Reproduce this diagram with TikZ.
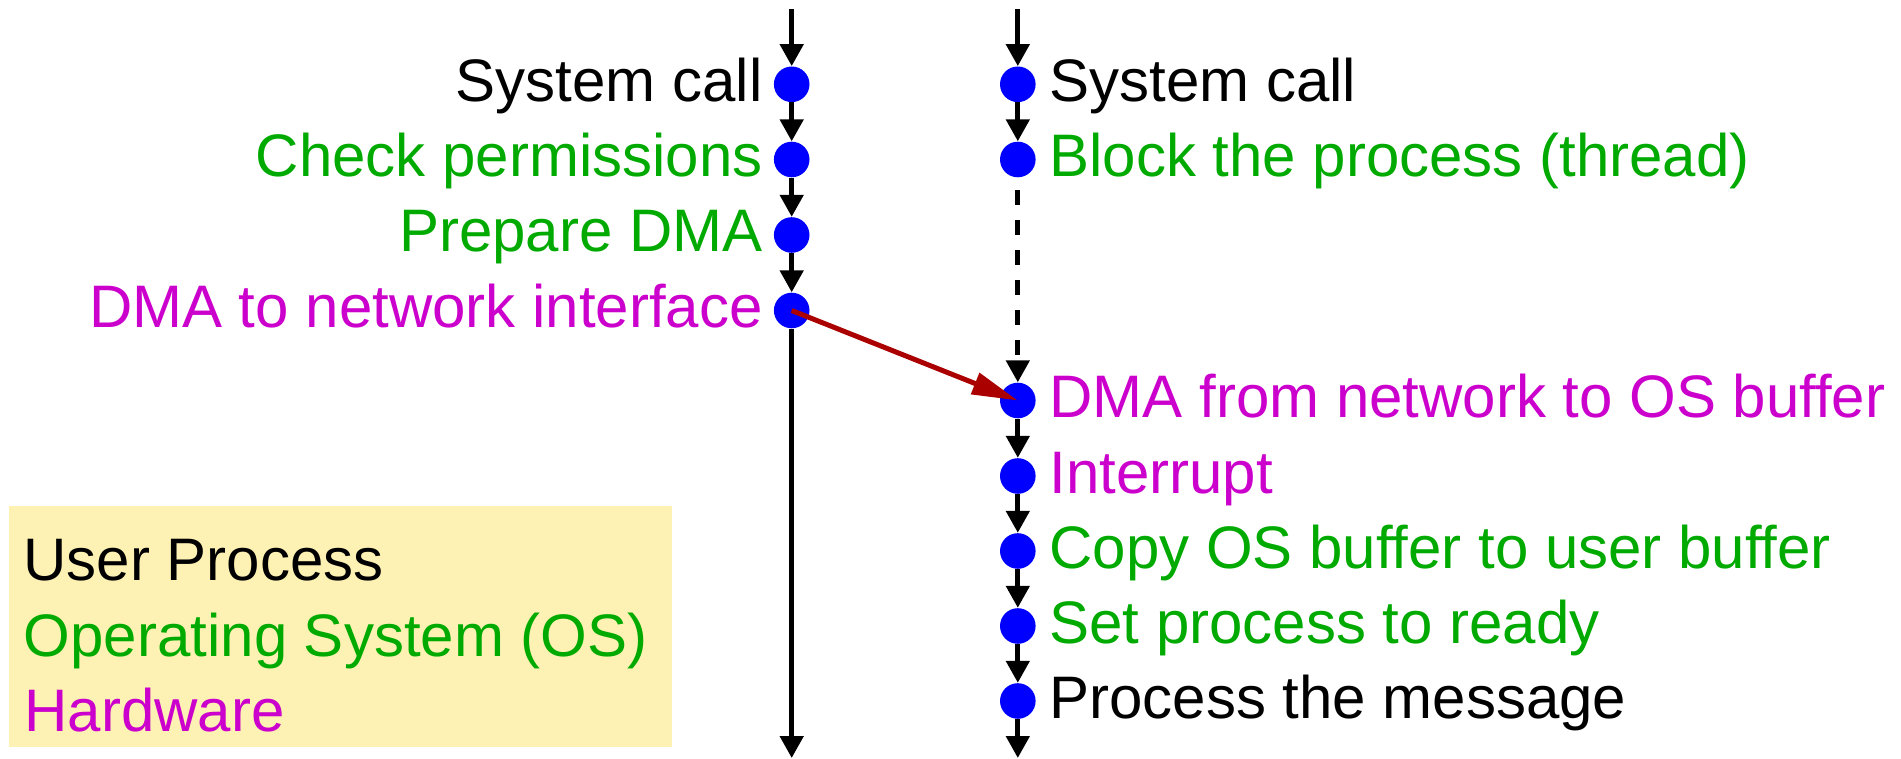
\documentclass[tikz,border=0pt]{standalone}
\usepackage{fontspec}
\setmainfont{Liberation Sans}
\usetikzlibrary{arrows.meta}
\definecolor{osgreen}{RGB}{0,170,0}
\definecolor{hwmagenta}{RGB}{204,0,204}
\definecolor{dotblue}{RGB}{0,0,255}
\definecolor{dmared}{RGB}{170,0,0}
\definecolor{legendfill}{RGB}{253,242,179}
\begin{document}
\begin{tikzpicture}[x=0.5pt,y=-0.5pt,
  event/.style={circle,fill=dotblue,inner sep=0pt,minimum size=17.8pt},
  flow/.style={line width=2.4pt,-{Triangle[length=11pt,width=11.5pt]}},
  wait/.style={flow,dash pattern=on 7.5pt off 7.5pt,dash phase=8.65pt},
  transfer/.style={line width=2.5pt,color=dmared,-{Triangle[length=23pt,width=11pt]}},
  lbl/.style={font=\fontsize{30pt}{36pt}\selectfont,inner sep=0pt},
  lefttext/.style={lbl,anchor=base east},
  righttext/.style={lbl,anchor=base west},
  user/.style={text=black},
  os/.style={text=osgreen},
  hw/.style={text=hwmagenta}]
\useasboundingbox (0,0) rectangle (1901,759);

% legend
\fill[legendfill] (9,506) rectangle (672,747);
\node[lbl,anchor=base west,user] (lgUser) at (23,580) {User Process};
\node[lbl,anchor=base west,os] (lgOS) at (23.5,656) {Operating System (OS)};
\node[lbl,anchor=base west,hw] (lgHW) at (24,731.7) {Hardware};

% sending side
\coordinate (lTop) at (791.7,9);
\coordinate (lBot) at (791.7,758);
\node[event] (lSys) at (791.7,84.3) {};
\node[event] (lChk) at (791.7,159.5) {};
\node[event] (lPrep) at (791.7,235) {};
\node[event] (lDma) at (791.7,310.5) {};

% receiving side
\coordinate (rTop) at (1017.8,9);
\coordinate (rBot) at (1017.8,758);
\node[event] (rSys) at (1017.8,84.3) {};
\node[event] (rBlk) at (1017.8,159.5) {};
\node[event] (rDma) at (1017.8,400.5) {};
\node[event] (rInt) at (1017.8,476) {};
\node[event] (rCopy) at (1017.8,551) {};
\node[event] (rReady) at (1017.8,626) {};
\node[event] (rProc) at (1017.8,701) {};

% step labels
\node[lefttext,user] (tlSys) at (763,101.3) {System call};
\node[lefttext,os] (tlChk) at (763,176.5) {Check permissions};
\node[lefttext,os] (tlPrep) at (763,252) {Prepare DMA};
\node[lefttext,hw] (tlDma) at (763,327.5) {DMA to network interface};

\node[righttext,user] (trSys) at (1049,101.3) {System call};
\node[righttext,os] (trBlk) at (1049,176.5) {Block the process (thread)};
\node[righttext,hw] (trDma) at (1049,417.5) {DMA from network to OS buffer};
\node[righttext,hw] (trInt) at (1049,493) {Interrupt};
\node[righttext,os] (trCopy) at (1049,568) {Copy OS buffer to user buffer};
\node[righttext,os] (trReady) at (1049,643) {Set process to ready};
\node[righttext,user] (trProc) at (1049,718) {Process the message};

% control flow
\draw[flow] (lTop) -- (lSys.north);
\draw[flow] (lSys.south) -- (lChk.north);
\draw[flow] (lChk.south) -- (lPrep.north);
\draw[flow] (lPrep.south) -- (lDma.north);
\draw[flow] (lDma.south) -- (lBot);

\draw[flow] (rTop) -- (rSys.north);
\draw[flow] (rSys.south) -- (rBlk.north);
\draw[wait] (rBlk.south) -- (rDma.north);
\draw[flow] (rDma.south) -- (rInt.north);
\draw[flow] (rInt.south) -- (rCopy.north);
\draw[flow] (rCopy.south) -- (rReady.north);
\draw[flow] (rReady.south) -- (rProc.north);
\draw[flow] (rProc.south) -- (rBot);

% data transfer over the network
\draw[transfer] (lDma.center) -- (rDma.center);
\end{tikzpicture}
\end{document}
